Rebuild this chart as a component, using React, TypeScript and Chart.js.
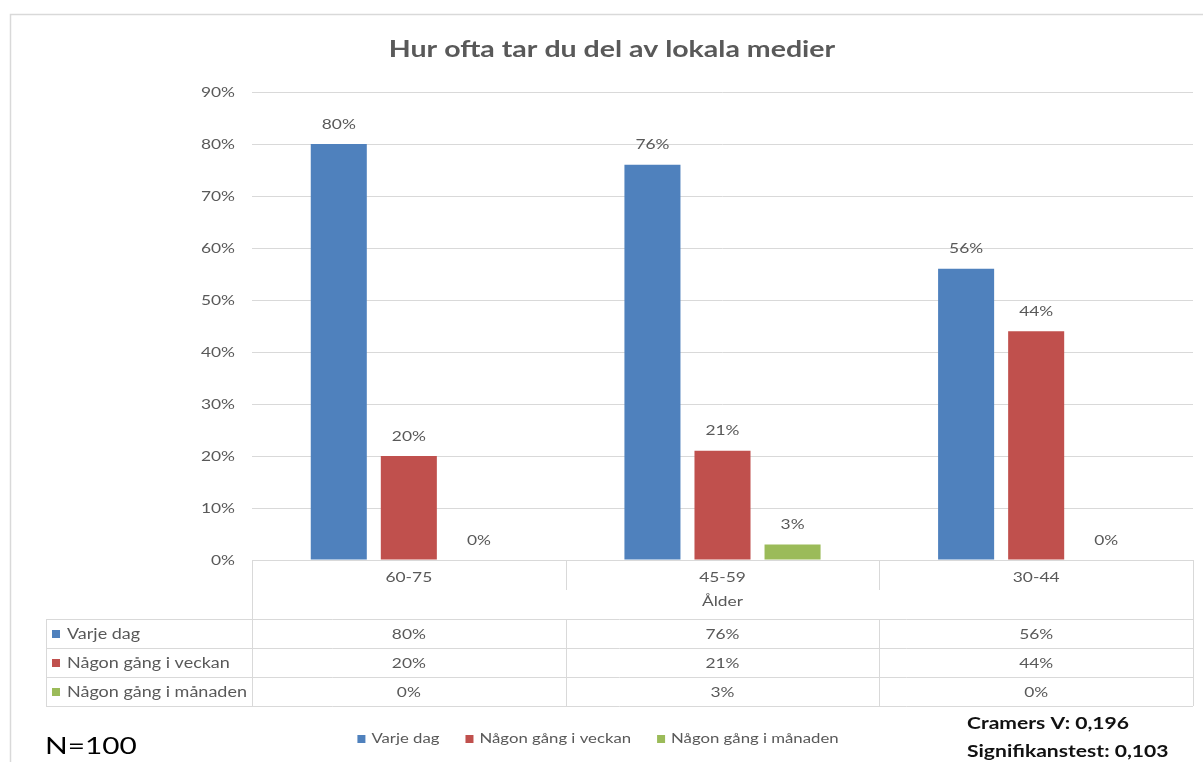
import React, { useEffect, useRef } from "react";
import { Chart, registerables } from "chart.js";

Chart.register(...registerables);

const TITLE = "Hur ofta tar du del av lokala medier";
const CATEGORIES = ["60-75", "45-59", "30-44"];
const AXIS_TITLE = "Ålder";
const SERIES_NAMES = ["Varje dag", "Någon gång i veckan", "Någon gång i månaden"];
const VARJE_DAG = [80, 76, 56];
const NAGON_GANG_VECKAN = [20, 21, 44];
const NAGON_GANG_MANADEN = [0, 3, 0];
const SERIES_COLORS = ["#4F81BD", "#C0504D", "#9BBB59"];
const Y_MAX = 90;
const Y_STEP = 10;
const N_LABEL = "N=100";
const STATS_LINES = ["Cramers V: 0,196", "Signifikanstest: 0,103"];

const FONT = "Lato, 'Open Sans', sans-serif";
const TEXT = "#595959";
const LINE = "#D9D9D9";
const SX = 1.24;

const SERIES_VALUES = [VARJE_DAG, NAGON_GANG_VECKAN, NAGON_GANG_MANADEN];

const pct = (v: number) => `${v}%`;

function drawText(
  ctx: CanvasRenderingContext2D,
  text: string,
  x: number,
  y: number,
  align: CanvasTextAlign
) {
  ctx.save();
  ctx.translate(x, y);
  ctx.scale(SX, 1);
  ctx.textAlign = align;
  ctx.fillText(text, 0, 0);
  ctx.restore();
}

const overlayPlugin = {
  id: "overlay",
  beforeDraw(chart: any) {
    const ctx = chart.ctx as CanvasRenderingContext2D;
    ctx.save();
    ctx.fillStyle = "#ffffff";
    ctx.fillRect(0, 0, chart.width, chart.height);
    ctx.strokeStyle = LINE;
    ctx.lineWidth = 1.5;
    ctx.beginPath();
    ctx.moveTo(10.5, chart.height);
    ctx.lineTo(10.5, 14.5);
    ctx.lineTo(chart.width, 14.5);
    ctx.stroke();
    ctx.restore();
  },
  afterDatasetsDraw(chart: any) {
    const ctx = chart.ctx as CanvasRenderingContext2D;
    ctx.save();
    ctx.font = `14px ${FONT}`;
    ctx.fillStyle = TEXT;
    ctx.textBaseline = "middle";
    chart.data.datasets.forEach((ds: any, i: number) => {
      const meta = chart.getDatasetMeta(i);
      meta.data.forEach((bar: any, j: number) => {
        drawText(ctx, pct(ds.data[j]), bar.x, bar.y - 20, "center");
      });
    });
    ctx.restore();
  },
  afterDraw(chart: any) {
    const ctx = chart.ctx as CanvasRenderingContext2D;
    const xs = chart.scales.x;
    const ys = chart.scales.y;
    const ca = chart.chartArea;
    const n = CATEGORIES.length;
    const cw = (ca.right - ca.left) / n;
    const bounds: number[] = [];
    for (let i = 0; i < n; i++) bounds.push(xs.getPixelForValue(i) - cw / 2);
    bounds.push(xs.getPixelForValue(n - 1) + cw / 2);
    const b = ca.bottom;
    const tableLeft = 46;
    const rowTop = b + 59;
    const rowH = 29;
    const nRows = SERIES_NAMES.length;
    const tableBottom = rowTop + rowH * nRows;

    ctx.save();
    ctx.textBaseline = "middle";
    // Title
    ctx.fillStyle = TEXT;
    ctx.font = `bold 23px ${FONT}`;
    drawText(ctx, TITLE, 612, 50, "center");

    // y tick labels
    ctx.font = `14px ${FONT}`;
    ys.ticks.forEach((t: any) => {
      drawText(ctx, pct(t.value), 235, ys.getPixelForValue(t.value), "right");
    });

    // table lines
    ctx.strokeStyle = LINE;
    ctx.lineWidth = 1;
    const hline = (x1: number, x2: number, y: number) => {
      ctx.beginPath();
      ctx.moveTo(x1, Math.round(y) + 0.5);
      ctx.lineTo(x2, Math.round(y) + 0.5);
      ctx.stroke();
    };
    const vline = (x: number, y1: number, y2: number) => {
      ctx.beginPath();
      ctx.moveTo(Math.round(x) + 0.5, y1);
      ctx.lineTo(Math.round(x) + 0.5, y2);
      ctx.stroke();
    };
    hline(bounds[0], bounds[n], b);
    vline(bounds[0], b, tableBottom);
    vline(bounds[n], b, tableBottom);
    for (let i = 1; i < n; i++) {
      vline(bounds[i], b, b + 30);
      vline(bounds[i], rowTop, tableBottom);
    }
    for (let r = 0; r <= nRows; r++) hline(tableLeft, bounds[n], rowTop + r * rowH);
    vline(tableLeft, rowTop, tableBottom);

    // category labels
    ctx.font = `14px ${FONT}`;
    ctx.fillStyle = TEXT;
    CATEGORIES.forEach((c, i) => drawText(ctx, c, xs.getPixelForValue(i), b + 17, "center"));
    drawText(ctx, AXIS_TITLE, (bounds[0] + bounds[n]) / 2, b + 41, "center");

    // rows
    SERIES_NAMES.forEach((name, r) => {
      const cy = rowTop + r * rowH + rowH / 2 + 0.5;
      ctx.fillStyle = SERIES_COLORS[r];
      ctx.fillRect(52, cy - 4, 8, 8);
      ctx.fillStyle = TEXT;
      ctx.font = `14.5px ${FONT}`;
      drawText(ctx, name, 67, cy, "left");
      ctx.font = `14px ${FONT}`;
      SERIES_VALUES[r].forEach((v, i) => drawText(ctx, pct(v), xs.getPixelForValue(i), cy, "center"));
    });

    // legend
    ctx.font = `13.5px ${FONT}`;
    const marker = 8;
    const gapText = 6;
    const gapItem = 26;
    const widths = SERIES_NAMES.map((s) => marker + gapText + ctx.measureText(s).width * SX);
    const total = widths.reduce((a, w) => a + w, 0) + gapItem * (widths.length - 1);
    let lx = 598 - total / 2;
    const ly = 739;
    SERIES_NAMES.forEach((s, i) => {
      ctx.fillStyle = SERIES_COLORS[i];
      ctx.fillRect(lx, ly - 4, marker, marker);
      ctx.fillStyle = TEXT;
      drawText(ctx, s, lx + marker + gapText, ly, "left");
      lx += widths[i] + gapItem;
    });

    // N label
    ctx.fillStyle = "#000000";
    ctx.font = `24px ${FONT}`;
    drawText(ctx, N_LABEL, 45, 746, "left");

    // stats
    ctx.font = `bold 17px ${FONT}`;
    ctx.fillStyle = "#111111";
    STATS_LINES.forEach((s, i) => drawText(ctx, s, 967, 724 + i * 28, "left"));
    ctx.restore();
  },
};

export default function App() {
  const ref = useRef<HTMLCanvasElement | null>(null);
  useEffect(() => {
    if (!ref.current) return;
    const chart = new Chart(ref.current, {
      type: "bar",
      data: {
        labels: CATEGORIES,
        datasets: SERIES_NAMES.map((name, i) => ({
          label: name,
          data: SERIES_VALUES[i],
          backgroundColor: SERIES_COLORS[i],
          borderWidth: 0,
          categoryPercentage: 0.67,
          barPercentage: 0.8,
        })),
      },
      options: {
        responsive: false,
        animation: false,
        devicePixelRatio: 1,
        layout: { padding: { left: 10, right: 10, top: 92, bottom: 202 } },
        plugins: {
          legend: { display: false },
          title: { display: false },
          tooltip: { enabled: false },
        },
        scales: {
          x: { display: false, offset: true },
          y: {
            min: 0,
            max: Y_MAX,
            ticks: {
              stepSize: Y_STEP,
              display: false,
            },
            grid: { color: LINE, drawTicks: false, lineWidth: 1 },
            border: { display: false },
            afterFit: (s: any) => {
              s.width = 242;
            },
          },
        },
      },
      plugins: [overlayPlugin],
    });
    return () => chart.destroy();
  }, []);
  return (
    <div style={{ position: "fixed", left: 0, top: 0, width: 1203, height: 762 }}>
      <canvas ref={ref} width={1203} height={762} style={{ width: 1203, height: 762, display: "block" }} />
    </div>
  );
}
